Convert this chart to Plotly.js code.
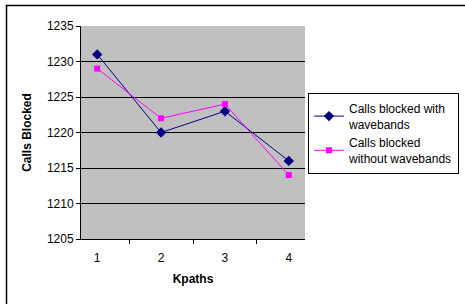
<!DOCTYPE html>
<html><head><meta charset="utf-8">
<script src="https://cdn.plot.ly/plotly-3.0.1.min.js"></script>
<style>html,body{margin:0;padding:0;background:#fff}#c{width:465px;height:304px}</style>
</head><body><div id="c"></div>
<script>
const kpaths = ['1','2','3','4'];
const withWavebands = [1231, 1220, 1223, 1216];
const withoutWavebands = [1229, 1222, 1224, 1214];
const seriesNames = ['Calls blocked with<br>wavebands', 'Calls blocked<br>without wavebands'];

const L = 81, R = 160, T = 26, B = 65, W = 465, H = 304;
const pw = W - L - R, ph = H - T - B;
const px = v => (v - L) / pw;
const py = v => (H - B - v) / ph;

const traces = [
  {x: kpaths, y: withWavebands, name: seriesNames[0], type: 'scatter', mode: 'lines+markers',
   line: {color: '#000080', width: 1}, marker: {symbol: 'diamond', size: 8, color: '#000080'}},
  {x: kpaths, y: withoutWavebands, name: seriesNames[1], type: 'scatter', mode: 'lines+markers',
   line: {color: '#FF00FF', width: 1}, marker: {symbol: 'square', size: 6, color: '#FF00FF'}}
];

const layout = {
  width: W, height: H,
  margin: {l: L, r: R, t: T, b: B, pad: 0, autoexpand: false},
  paper_bgcolor: '#ffffff', plot_bgcolor: '#C0C0C0',
  font: {family: 'Arial, "Liberation Sans", sans-serif', size: 12, color: '#000'},
  showlegend: true,
  legend: {xref: 'container', yref: 'container', x: 308 / W, y: 1 - 93 / H, xanchor: 'left', yanchor: 'top',
    bordercolor: '#000', borderwidth: 1, bgcolor: '#fff',
    font: {size: 12}, tracegroupgap: 2, itemwidth: 30},
  xaxis: {type: 'category', tickson: 'boundaries', ticks: 'outside', ticklen: 4, tickcolor: '#000',
    ticklabelstandoff: 8, automargin: false,
    showline: true, linecolor: '#000', linewidth: 1, showgrid: false, zeroline: false,
    title: {text: '<b>Kpaths</b>', font: {size: 12}, standoff: 10}},
  yaxis: {range: [1205, 1235], dtick: 5, tick0: 1205, ticks: 'outside', ticklen: 4, tickcolor: '#000',
    automargin: false,
    showline: true, linecolor: '#000', linewidth: 1, showgrid: true, gridcolor: '#000', gridwidth: 1,
    zeroline: false,
    title: {text: '<b>Calls Blocked</b>', font: {size: 12}, standoff: 12}},
  shapes: [
    {type: 'rect', xref: 'paper', yref: 'paper', x0: px(6.5), x1: px(500), y0: py(400), y1: py(5.5),
     line: {color: '#000', width: 1.5}, fillcolor: 'rgba(0,0,0,0)', layer: 'below'}
  ]
};
Plotly.newPlot('c', traces, layout, {staticPlot: true, displayModeBar: false});
</script></body></html>
